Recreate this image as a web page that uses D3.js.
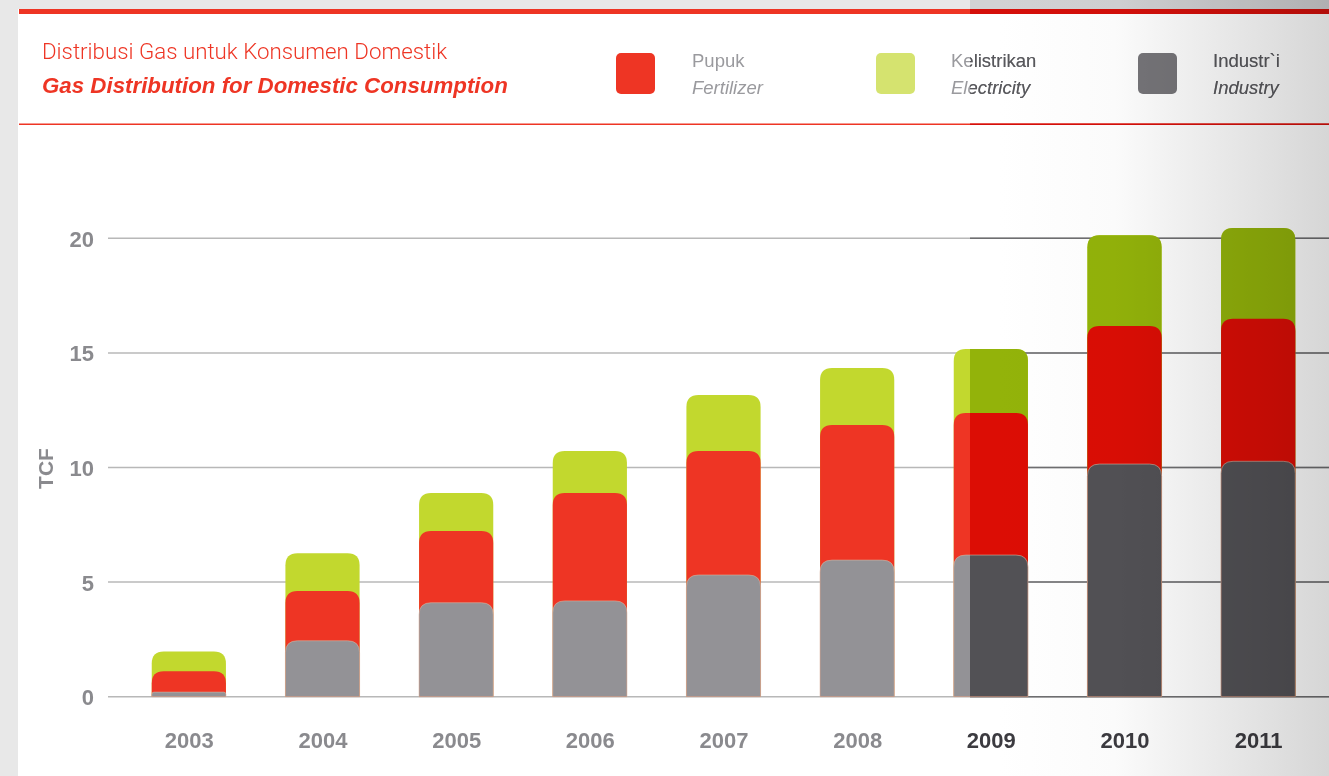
<!DOCTYPE html>
<html>
<head>
<meta charset="utf-8">
<script src="https://cdn.jsdelivr.net/npm/d3@7"></script>
<style>
  html, body { margin: 0; padding: 0; background: #e8e8e8; }
  svg { display: block; }
  text { font-family: "Liberation Sans", Arial, Helvetica, sans-serif; }
</style>
</head>
<body>
<svg id="chart" width="1329" height="776"></svg>
<script>
// ---- data (TCF) ----
const years = ["2003", "2004", "2005", "2006", "2007", "2008", "2009", "2010", "2011"];
const industry    = [0.20, 2.44, 4.10, 4.18, 5.31, 5.96, 6.18, 10.15, 10.27];
const fertilizer  = [0.91, 2.17, 3.13, 4.71, 5.41, 5.89, 6.20, 6.02, 6.22];
const electricity = [0.86, 1.65, 1.66, 1.83, 2.44, 2.49, 2.79, 3.96, 3.96];
const yTicks = [0, 5, 10, 15, 20];
const highlightFrom = "2009";

const seriesKeys = ["industry", "fertilizer", "electricity"];
const legendItems = [
  { key: "fertilizer",  id: "Pupuk",       en: "Fertilizer" },
  { key: "electricity", id: "Kelistrikan", en: "Electricity" },
  { key: "industry",    id: "Industr`i",   en: "Industry" }
];

// ---- palettes: regular and the shaded right-hand panel ----
const palLight = {
  fertilizer: "#ee3524", electricity: "#c2d82e", industry: "#939296",
  grid: "#b8b8b8", topbar: "#ee3524", strip: "#e8e8e8", legendText: "#9a9a9e"
};
const palDark = {
  fertilizer: "#dc0d05", electricity: "#93b30a", industry: "#525155",
  grid: "#6e6e70", topbar: "#d50f0a", strip: "#d2d2d4", legendText: "#58585c"
};
const swatchColor = { fertilizer: "#ee3524", electricity: "#d5e36f", industry: "#767579" };

const W = 1329, H = 776;
const svg = d3.select("#chart");

const rows = years.map((y, i) => ({
  year: y, industry: industry[i], fertilizer: fertilizer[i], electricity: electricity[i]
}));
const stacked = d3.stack().keys(seriesKeys)(rows);

const x = d3.scalePoint().domain(years).range([122, 1325]).padding(0.5);
const barW = x.step() * 0.555;
const y = d3.scaleLinear().domain([0, 20]).range([696.7, 238.3]);

const defs = svg.append("defs");
defs.append("clipPath").attr("id", "shadeClip")
  .append("rect").attr("x", 970).attr("y", 0).attr("width", W - 970).attr("height", H);

const grad = defs.append("linearGradient").attr("id", "edgeShade")
  .attr("x1", 0).attr("x2", 1).attr("y1", 0).attr("y2", 0);
grad.append("stop").attr("offset", "0%").attr("stop-color", "#ffffff");
grad.append("stop").attr("offset", "35%").attr("stop-color", "#fbfbfb");
grad.append("stop").attr("offset", "100%").attr("stop-color", "#d6d6d6");

// page background and white panel
svg.append("rect").attr("width", W).attr("height", H).attr("fill", "#e8e8e8");
svg.append("rect").attr("x", 18).attr("y", 9).attr("width", W - 18).attr("height", H - 9).attr("fill", "#ffffff");

// rounded-top bar outline, from the baseline up to the top value
function roundTop(x0, yBase, yTop, w, r) {
  const h = yBase - yTop;
  const rr = Math.min(r, h / 2, w / 2);
  return `M${x0},${yBase}V${yTop + rr}Q${x0},${yTop} ${x0 + rr},${yTop}` +
         `H${x0 + w - rr}Q${x0 + w},${yTop} ${x0 + w},${yTop + rr}V${yBase}Z`;
}

function drawLayer(g, pal) {
  // strip and red rules at the top
  g.append("rect").attr("x", 18).attr("y", 0).attr("width", W).attr("height", 9).attr("fill", pal.strip);
  g.append("rect").attr("x", 19).attr("y", 9).attr("width", W).attr("height", 5).attr("fill", pal.topbar);
  g.append("rect").attr("x", 19).attr("y", 123.5).attr("width", W).attr("height", 1.5).attr("fill", pal.topbar);

  // legend labels
  const lg = g.append("g");
  legendItems.forEach((d, i) => {
    const lx = [692, 951, 1213][i];
    lg.append("text").attr("x", lx).attr("y", 67).attr("font-size", 18.5)
      .attr("fill", pal.legendText).text(d.id);
    lg.append("text").attr("x", lx).attr("y", 94).attr("font-size", 18.5)
      .attr("font-style", "italic").attr("fill", pal.legendText).text(d.en);
  });

  // gridlines
  g.append("g").selectAll("line").data(yTicks).join("line")
    .attr("x1", 108).attr("x2", W)
    .attr("y1", d => y(d)).attr("y2", d => y(d))
    .attr("stroke", pal.grid).attr("stroke-width", 1.5);

  // bars: each cumulative level is drawn from the baseline, topmost level first
  const order = ["electricity", "fertilizer", "industry"];
  order.forEach(key => {
    const s = stacked.find(ss => ss.key === key);
    g.append("g").selectAll("path").data(s).join("path")
      .attr("d", d => roundTop(x(d.data.year) - barW / 2, y(0), y(d[1]), barW, 12))
      .attr("fill", pal[key])
      .attr("stroke", key === "industry" ? "#d9b3a0" : "none")
      .attr("stroke-width", 0.6);
  });
}

drawLayer(svg.append("g"), palLight);
drawLayer(svg.append("g").attr("clip-path", "url(#shadeClip)"), palDark);

// title
svg.append("text").attr("x", 42).attr("y", 59).attr("font-size", 22.3)
  .attr("fill", "#ee3524").style("font-family", "Roboto, 'Liberation Sans', sans-serif")
  .attr("font-weight", 300).text("Distribusi Gas untuk Konsumen Domestik");
svg.append("text").attr("x", 42).attr("y", 93).attr("font-size", 22.3)
  .attr("fill", "#ee3524").attr("font-weight", "bold").attr("font-style", "italic")
  .text("Gas Distribution for Domestic Consumption");

// legend swatches
svg.append("g").selectAll("rect").data(legendItems).join("rect")
  .attr("x", (d, i) => [616, 876, 1138][i]).attr("y", 53)
  .attr("width", 39).attr("height", 41).attr("rx", 5)
  .attr("fill", d => swatchColor[d.key]);

// y axis
const yAxis = svg.append("g").attr("transform", "translate(94,0)")
  .call(d3.axisLeft(y).tickValues(yTicks).tickSize(0).tickPadding(0));
yAxis.select(".domain").remove();
yAxis.selectAll("text").attr("font-size", 22).attr("font-weight", "bold")
  .attr("fill", "#8a8a8e").attr("dy", "0.36em")
  .style("font-family", "'Liberation Sans', Arial, sans-serif");

svg.append("text").attr("transform", "translate(53,468.5) rotate(-90)")
  .attr("text-anchor", "middle").attr("font-size", 21).attr("font-weight", "bold")
  .attr("fill", "#8a8a8e").text("TCF");

// x axis
const xAxis = svg.append("g").attr("transform", "translate(0,748)")
  .call(d3.axisBottom(x).tickSize(0).tickPadding(0));
xAxis.select(".domain").remove();
xAxis.selectAll("text").attr("font-size", 22).attr("font-weight", "bold")
  .attr("dy", 0)
  .attr("fill", d => d >= highlightFrom ? "#3c3b40" : "#8a8a8e")
  .style("font-family", "'Liberation Sans', Arial, sans-serif");

// soft shading toward the right edge
svg.append("rect").attr("x", 1000).attr("y", 0).attr("width", W - 1000).attr("height", H)
  .attr("fill", "url(#edgeShade)").style("mix-blend-mode", "multiply");
</script>
</body>
</html>
